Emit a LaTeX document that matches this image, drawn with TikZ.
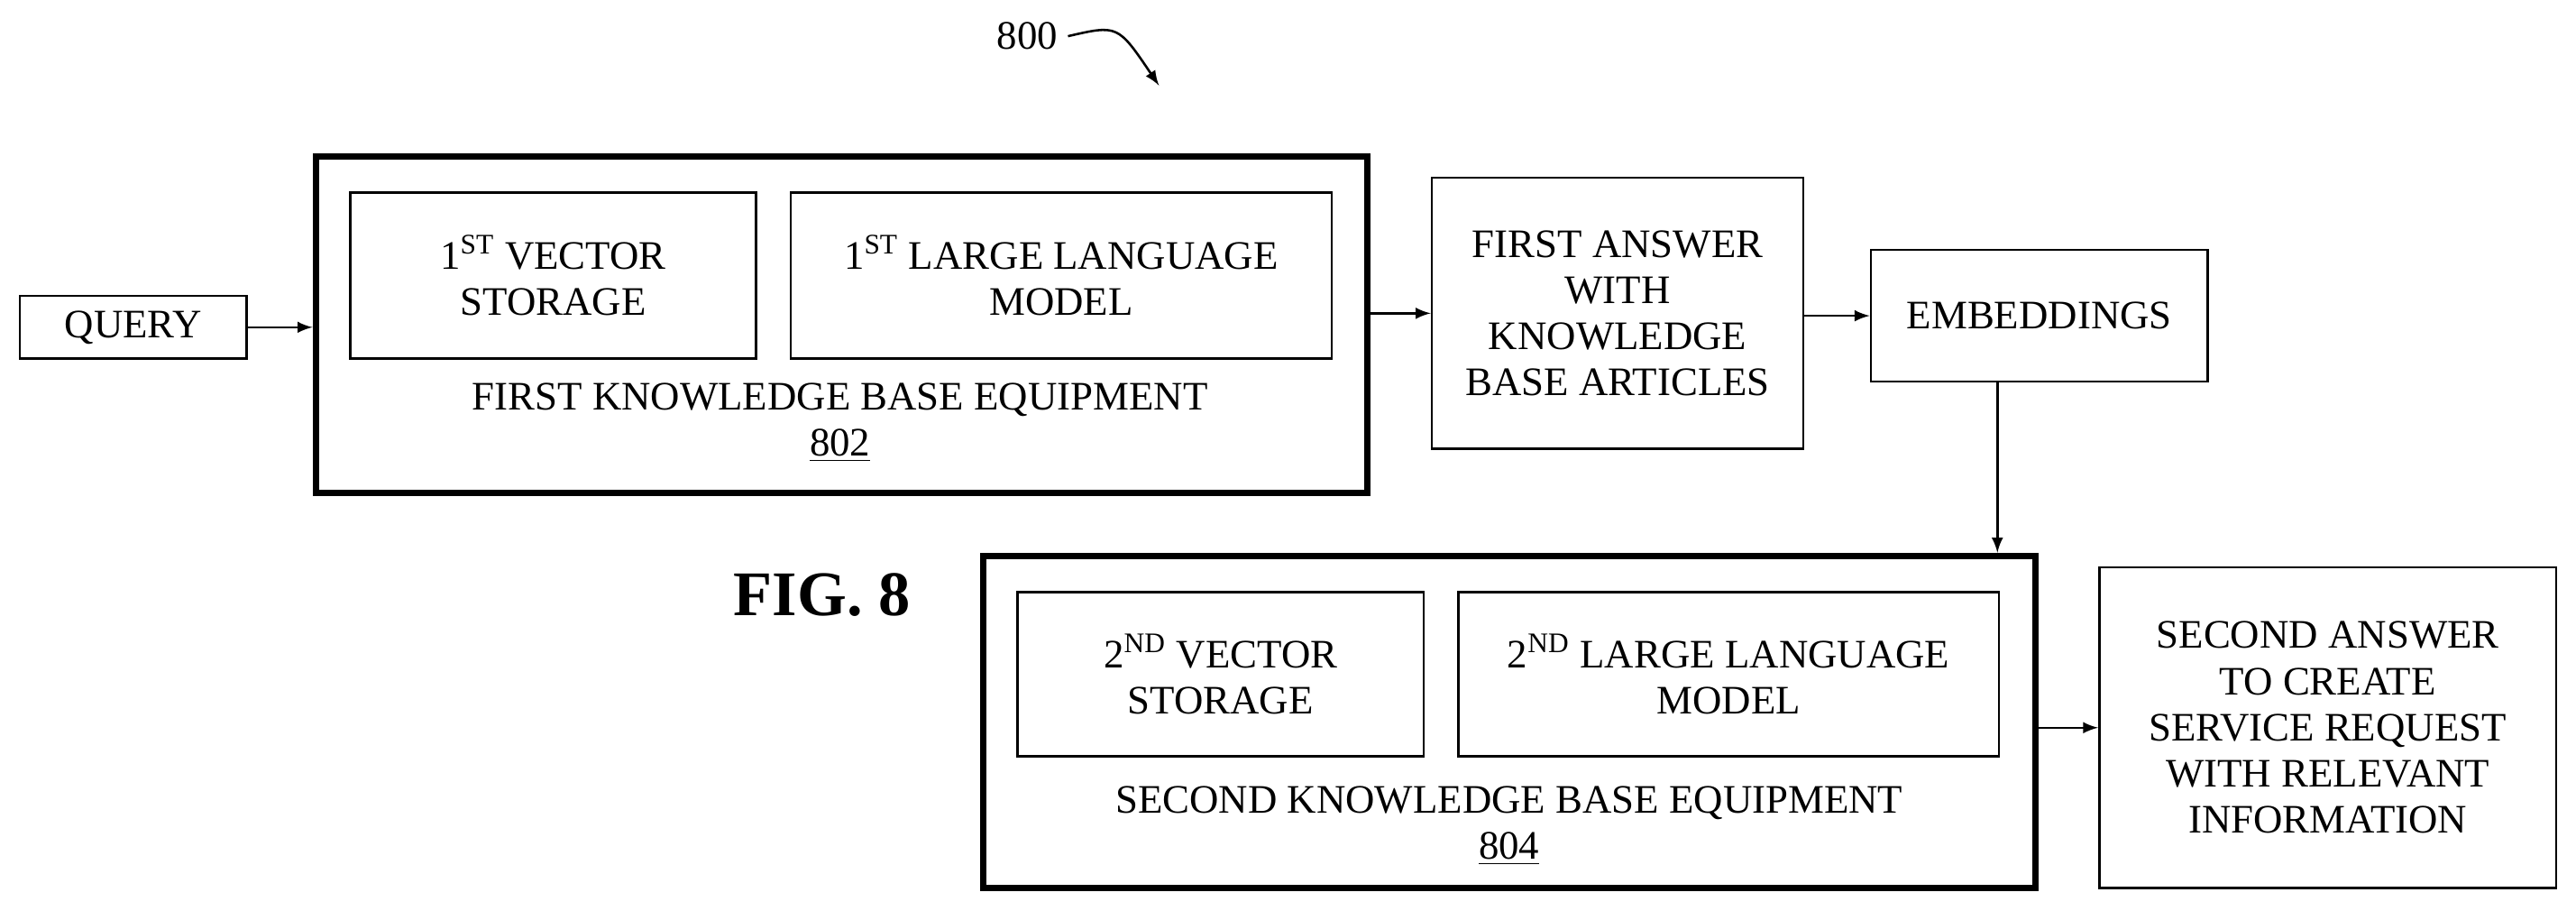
\documentclass[tikz,border=0pt]{standalone}
\usepackage{fontspec}
\setmainfont{Liberation Serif}
\usetikzlibrary{positioning}
\tikzset{
  blk/.style={draw,thick,rectangle,align=center,inner sep=0pt},
  equip/.style={draw,line width=2.2pt,rectangle,inner sep=0pt},
  arr/.style={thick,-latex}
}
\begin{document}
\begin{tikzpicture}[x=0.02cm,y=-0.02cm,font=\fontsize{14}{16}\selectfont]
  \useasboundingbox (0,0) rectangle (1567,559);
  % reference label
  \node (ref) at (625,22) {800};
  \draw[thick,-latex] (ref.east) .. controls (680,15) .. (705,52);

  \node[blk,minimum width=2.76cm,minimum height=0.76cm] (query) at (81,199) {QUERY};

  % first equipment
  \node[equip,minimum width=12.8cm,minimum height=4.1cm] (kb1) at (512,197.5) {};
  \node[blk,minimum width=4.94cm,minimum height=2.02cm] (vs1) at (336.5,167.5) {1\textsuperscript{ST} VECTOR\\STORAGE};
  \node[blk,minimum width=6.58cm,minimum height=2.02cm] (llm1) at (645.5,167.5) {1\textsuperscript{ST} LARGE LANGUAGE\\MODEL};
  \node[align=center] (kb1lbl) at (511,257) {FIRST KNOWLEDGE BASE EQUIPMENT\\\underline{802}};

  \node[blk,minimum width=4.52cm,minimum height=3.3cm] (ans1) at (984,190.5) {FIRST ANSWER\\WITH\\KNOWLEDGE\\BASE ARTICLES};
  \node[blk,minimum width=4.1cm,minimum height=1.6cm] (emb) at (1240.5,192) {EMBEDDINGS};

  \node[font=\fontsize{22}{24}\selectfont\bfseries] (fig) at (500,362) {FIG. 8};

  % second equipment
  \node[equip,minimum width=12.8cm,minimum height=4.04cm] (kb2) at (918,439) {};
  \node[blk,minimum width=4.94cm,minimum height=2.0cm] (vs2) at (742.5,410) {2\textsuperscript{ND} VECTOR\\STORAGE};
  \node[blk,minimum width=6.58cm,minimum height=2.0cm] (llm2) at (1051.5,410) {2\textsuperscript{ND} LARGE LANGUAGE\\MODEL};
  \node[align=center] (kb2lbl) at (918,502) {SECOND KNOWLEDGE BASE EQUIPMENT\\\underline{804}};

  \node[blk,minimum width=5.56cm,minimum height=3.9cm] (ans2) at (1416,442.5) {SECOND ANSWER\\TO CREATE\\SERVICE REQUEST\\WITH RELEVANT\\INFORMATION};

  \draw[arr] (query) -- (query -| kb1.west);
  \draw[arr] (kb1.east |- ans1) -- (ans1.west);
  \draw[arr] (ans1.east |- emb) -- (emb.west);
  \draw[arr] (emb.south -| 1215,0) -- (kb2.north -| 1215,0);
  \draw[arr] (kb2.east |- ans2) -- (ans2.west);
\end{tikzpicture}
\end{document}
